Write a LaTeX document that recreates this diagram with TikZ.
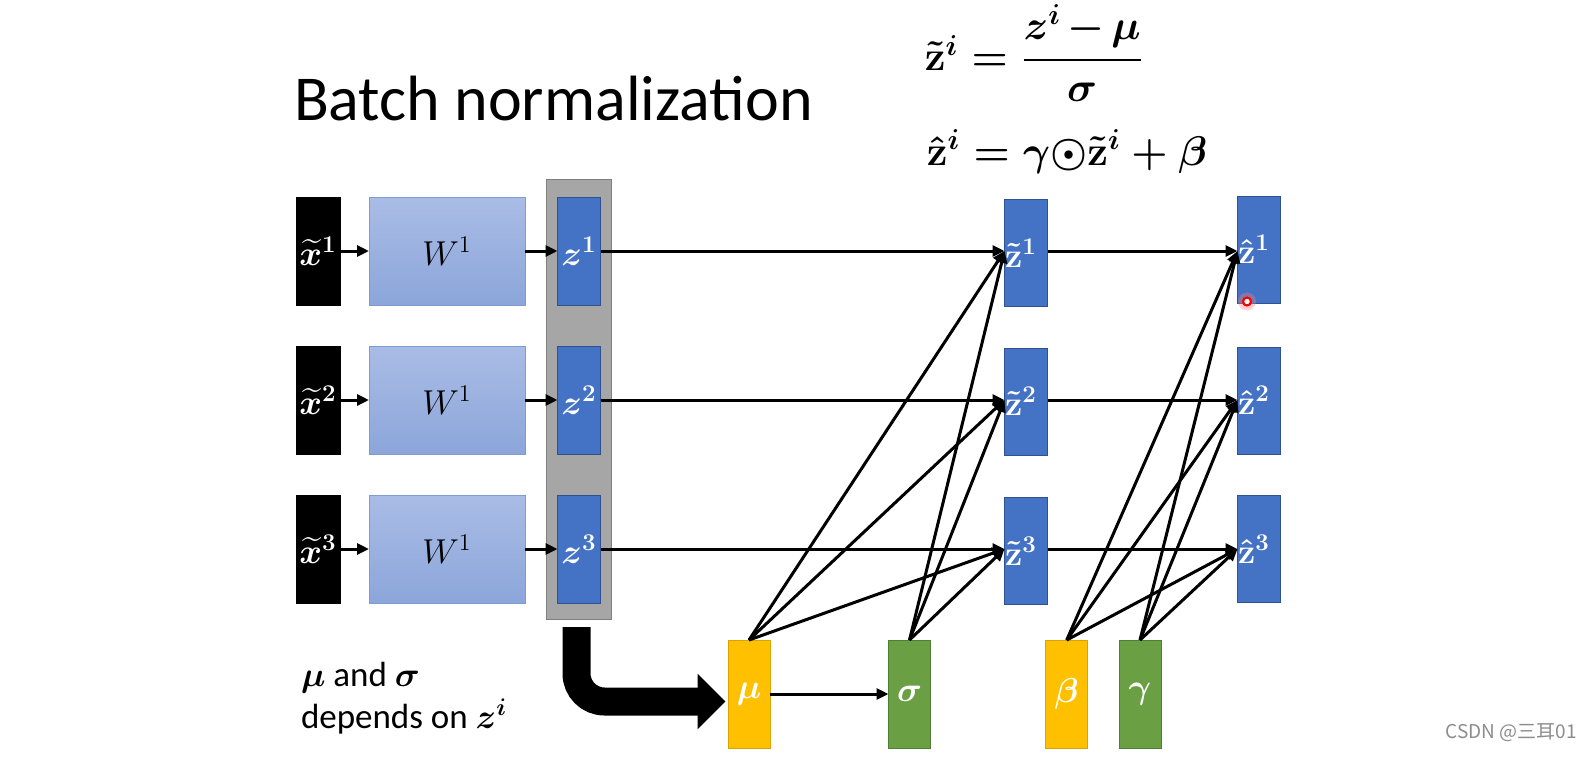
\documentclass[tikz,border=0pt]{standalone}
\usepackage{fontspec}
\setmainfont{Carlito}
\newfontfamily\cjkfont{Noto Sans CJK SC}
\usepackage{amsmath}
\usepackage{bm}
\usetikzlibrary{arrows.meta,calc}
\definecolor{boxblue}{HTML}{4472C4}
\definecolor{boxblueline}{HTML}{2F528F}
\definecolor{wtop}{HTML}{A9BCE5}
\definecolor{wbot}{HTML}{8CA6DA}
\definecolor{wline}{HTML}{7F9BD3}
\definecolor{colgray}{HTML}{A6A6A6}
\definecolor{colgrayline}{HTML}{7F7F7F}
\definecolor{gold}{HTML}{FFC000}
\definecolor{goldline}{HTML}{D9A300}
\definecolor{leaf}{HTML}{6A9F43}
\definecolor{leafline}{HTML}{507E32}
\begin{document}
\begin{tikzpicture}[x=0.5pt,y=-0.5pt,
  basebox/.style={draw, line width=0.4pt, inner sep=0pt, outer sep=0pt, text=white,
    font=\fontsize{17}{20}\selectfont\boldmath},
  xbox/.style={basebox, fill=black, draw=black, minimum width=22pt, minimum height=54pt},
  wbox/.style={draw=wline, line width=0.5pt, top color=wtop, bottom color=wbot,
    minimum width=78pt, minimum height=54pt, inner sep=0pt, outer sep=0pt,
    font=\fontsize{17}{20}\selectfont},
  zbox/.style={basebox, fill=boxblue, draw=boxblueline, minimum width=21.5pt, minimum height=54pt},
  ztbox/.style={zbox, minimum height=53.5pt},
  goldbox/.style={basebox, fill=gold, draw=goldline, minimum width=21pt, minimum height=54pt},
  leafbox/.style={basebox, fill=leaf, draw=leafline, minimum width=21pt, minimum height=54pt},
  graycol/.style={draw=colgrayline, line width=0.5pt, fill=colgray, minimum width=32.5pt,
    minimum height=220pt, inner sep=0pt, outer sep=0pt},
  arr/.style={line width=1.5pt, -{Triangle[length=6pt,width=5.5pt]}},
  bigarr/.style={line width=14pt, rounded corners=14pt, -{Triangle[length=14pt,width=27pt]}},
  plain/.style={inner sep=0pt, outer sep=0pt}
]
\useasboundingbox (0,0) rectangle (1596,756);

% title and formulas
\node[plain, anchor=base west, font=\fontsize{32}{38}\selectfont] (title) at (294,120) {Batch normalization};
\node[plain, anchor=west, font=\fontsize{19.5}{23}\selectfont\boldmath] (eq1) at (925,53)
  {$\medmuskip=2.5mu\tilde{\mathbf{z}}^{i} = \dfrac{z^{i} - \mu}{\sigma}$};
\node[plain, anchor=base west, font=\fontsize{19.7}{23}\selectfont\boldmath] (eq2) at (927,165)
  {$\hat{\mathbf{z}}^{i} = \gamma\mathord{\odot}\tilde{\mathbf{z}}^{i} + \beta$};

% left column
\node[graycol] (col) at (578.5,399) {};
\node[xbox] (x1) at (318,251) {$\widetilde{x}^{1}$};
\node[xbox] (x2) at (318,400) {$\widetilde{x}^{2}$};
\node[xbox] (x3) at (318,549) {$\widetilde{x}^{3}$};
\node[wbox] (w1) at (447,251) {$W^1$};
\node[wbox] (w2) at (447,400) {$W^1$};
\node[wbox] (w3) at (447,549) {$W^1$};
\node[zbox] (z1) at (579,251) {$z^{1}$};
\node[zbox] (z2) at (579,400) {$z^{2}$};
\node[zbox] (z3) at (579,549) {$z^{3}$};

% normalized columns
\node[ztbox] (zt1) at (1026,253) {\hspace{-5pt}$\tilde{\mathbf{z}}^{1}$};
\node[ztbox] (zt2) at (1026,401.5) {\hspace{-5pt}$\tilde{\mathbf{z}}^{2}$};
\node[ztbox] (zt3) at (1026,551) {\hspace{-5pt}$\tilde{\mathbf{z}}^{3}$};
\node[ztbox] (zh1) at (1259,249.5) {\hspace{-5pt}$\hat{\mathbf{z}}^{1}$};
\node[ztbox] (zh2) at (1259,400.5) {\hspace{-5pt}$\hat{\mathbf{z}}^{2}$};
\node[ztbox] (zh3) at (1259,549) {\hspace{-5pt}$\hat{\mathbf{z}}^{3}$};

% parameter boxes
\node[goldbox] (mu) at (749,694) {$\mu$};
\node[leafbox] (sigma) at (909.5,694) {$\sigma$};
\node[goldbox] (beta) at (1066.7,694) {$\beta$};
\node[leafbox] (gamma) at (1140,694) {$\gamma$};

% note
\node[plain, anchor=base west, font=\fontsize{17.5}{21}\selectfont\boldmath] (note1) at (301,686) {$\mu$ and $\sigma$};
\node[plain, anchor=base west, font=\fontsize{17.5}{21}\selectfont\boldmath] (note2) at (301,728) {depends on $z^{i}$};

% arrow tips
\coordinate (t1) at (zt1.west |- z1.east);
\coordinate (t2) at (zt2.west |- z2.east);
\coordinate (t3) at (zt3.west |- z3.east);
\coordinate (h1) at (zh1.west |- t1);
\coordinate (h2) at (zh2.west |- t2);
\coordinate (h3) at (zh3.west |- t3);

\foreach \i in {1,2,3}{
  \draw[arr] (x\i.east) -- (w\i.west);
  \draw[arr] (w\i.east) -- (z\i.west);
  \draw[arr] (z\i.east) -- (t\i);
  \draw[arr] (zt\i.east |- t\i) -- (h\i);
  \draw[arr] (mu.north) -- (t\i);
  \draw[arr] (sigma.north) -- (t\i);
  \draw[arr] (beta.north) -- (h\i);
  \draw[arr] (gamma.north) -- (h\i);
}
\draw[arr] (mu.east) -- (sigma.west);

% big arrow
\draw[bigarr] ($(col.south)+(-2,8)$) |- ($(mu.west)+(-2.5,7.5)$);

% pointer dot
\fill[red!50, opacity=0.35] (1247,301.5) circle (4.5pt);
\draw[red, line width=1.1pt, fill=white] (1247,301.5) circle (2pt);

% watermark
\node[plain, anchor=base east, text=black!45, font=\cjkfont\fontsize{9.5}{11}\selectfont] (wm) at (1577,738) {CSDN @三耳01};
\end{tikzpicture}
\end{document}
